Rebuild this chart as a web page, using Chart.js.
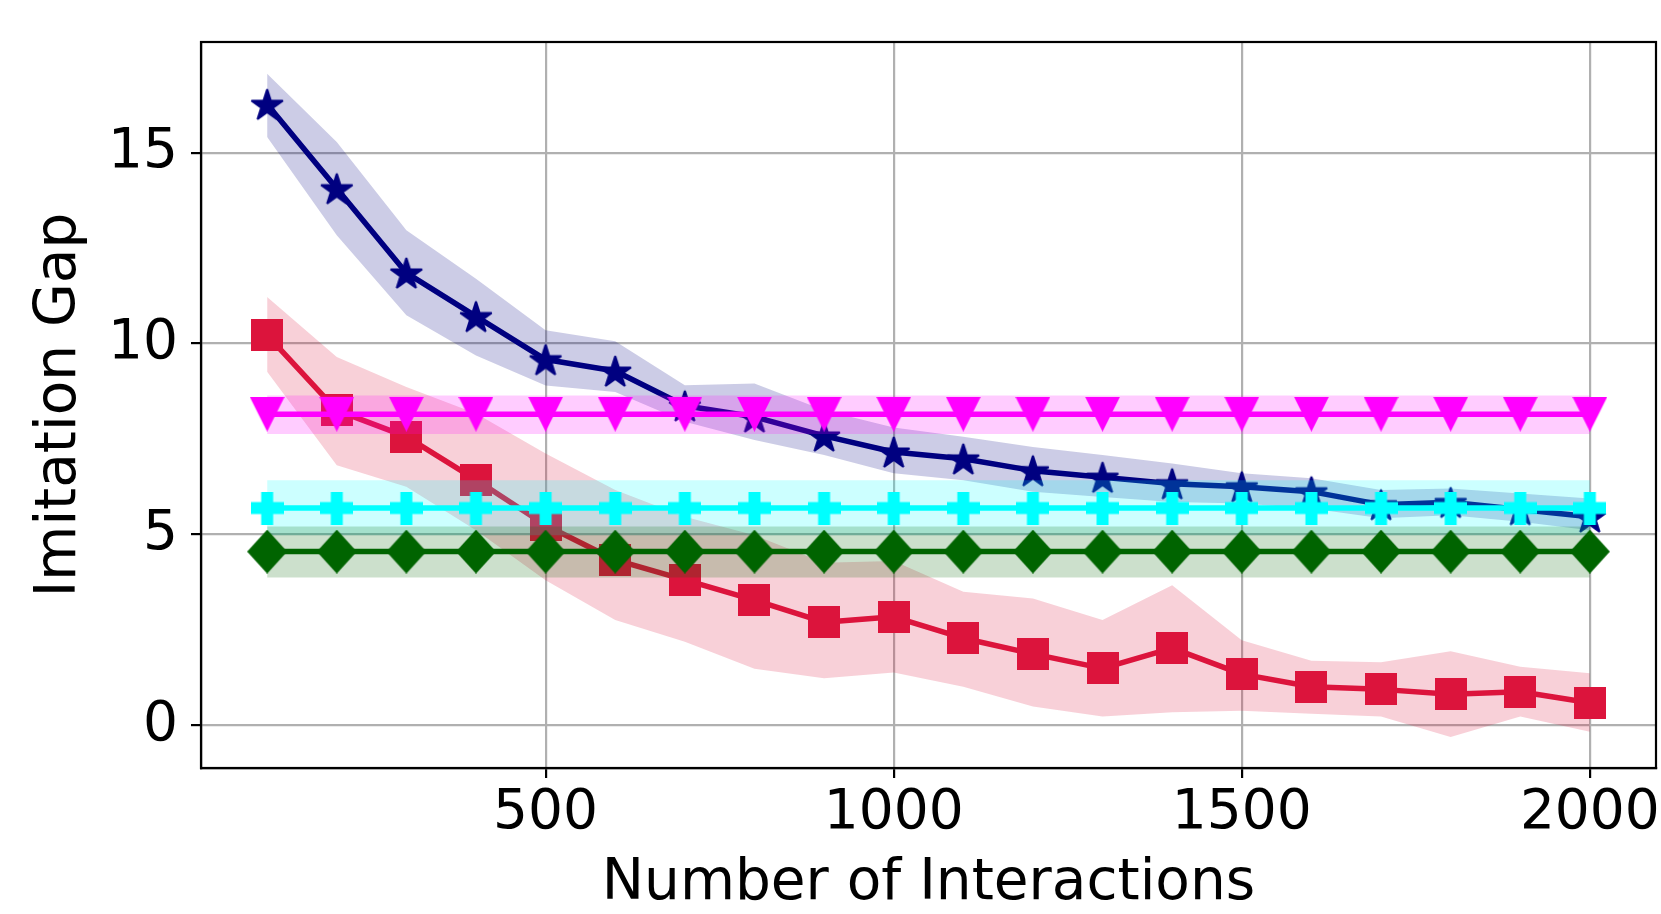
<!DOCTYPE html>
<html><head><meta charset="utf-8">
<script src="https://cdn.jsdelivr.net/npm/chart.js@4.4.1/dist/chart.umd.min.js"></script>
<style>html,body{margin:0;padding:0;background:#fff;overflow:hidden}</style>
</head><body>
<canvas id="c" width="1661" height="914"></canvas>
<script>
// ---- data ----
const interactions = [100,200,300,400,500,600,700,800,900,1000,1100,1200,1300,1400,1500,1600,1700,1800,1900,2000];
const xTickValues = [500,1000,1500,2000];
const yTickValues = [0,5,10,15];

const blueMean  = [16.27,14.06,11.85,10.71,9.58,9.28,8.37,8.08,7.58,7.16,6.98,6.67,6.50,6.33,6.25,6.12,5.78,5.84,5.65,5.46];
const blueUpper = [17.07,15.28,12.97,11.70,10.35,10.06,8.91,8.95,8.25,7.80,7.56,7.29,7.08,6.86,6.60,6.47,6.16,6.20,6.07,5.94];
const blueLower = [15.41,12.84,10.74,9.69,8.90,8.73,7.95,7.47,7.08,6.60,6.42,6.12,5.98,5.85,5.81,5.68,5.42,5.50,5.33,5.11];

const redMean  = [10.22,8.25,7.56,6.43,5.24,4.33,3.81,3.28,2.70,2.84,2.28,1.87,1.49,2.02,1.34,1.01,0.94,0.81,0.88,0.59];
const redUpper = [11.22,9.65,8.86,8.17,7.12,6.16,5.46,4.98,4.26,4.30,3.50,3.32,2.76,3.67,2.23,1.69,1.65,1.94,1.53,1.36];
const redLower = [9.26,6.81,6.25,5.11,3.80,2.76,2.19,1.48,1.23,1.38,1.01,0.49,0.23,0.34,0.38,0.30,0.23,-0.31,0.23,-0.17];

const magentaMean  = [8.15,8.15,8.15,8.15,8.15,8.15,8.15,8.15,8.15,8.15,8.15,8.15,8.15,8.15,8.15,8.15,8.15,8.15,8.15,8.15];
const magentaUpper = [8.64,8.64,8.64,8.64,8.64,8.64,8.64,8.64,8.64,8.64,8.64,8.64,8.64,8.64,8.64,8.64,8.64,8.64,8.64,8.64];
const magentaLower = [7.63,7.63,7.63,7.63,7.63,7.63,7.63,7.63,7.63,7.63,7.63,7.63,7.63,7.63,7.63,7.63,7.63,7.63,7.63,7.63];

const cyanMean  = [5.69,5.69,5.69,5.69,5.69,5.69,5.69,5.69,5.69,5.69,5.69,5.69,5.69,5.69,5.69,5.69,5.69,5.69,5.69,5.69];
const cyanUpper = [6.42,6.42,6.42,6.42,6.42,6.42,6.42,6.42,6.42,6.42,6.42,6.42,6.42,6.42,6.42,6.42,6.42,6.42,6.42,6.42];
const cyanLower = [4.98,4.98,4.98,4.98,4.98,4.98,4.98,4.98,4.98,4.98,4.98,4.98,4.98,4.98,4.98,4.98,4.98,4.98,4.98,4.98];

const greenMean  = [4.55,4.55,4.55,4.55,4.55,4.55,4.55,4.55,4.55,4.55,4.55,4.55,4.55,4.55,4.55,4.55,4.55,4.55,4.55,4.55];
const greenUpper = [5.21,5.21,5.21,5.21,5.21,5.21,5.21,5.21,5.21,5.21,5.21,5.21,5.21,5.21,5.21,5.21,5.21,5.21,5.21,5.21];
const greenLower = [3.87,3.87,3.87,3.87,3.87,3.87,3.87,3.87,3.87,3.87,3.87,3.87,3.87,3.87,3.87,3.87,3.87,3.87,3.87,3.87];

// ---- marker images ----
function mk(w, h, draw) {
  const c = document.createElement('canvas'); c.width = w; c.height = h;
  const g = c.getContext('2d'); draw(g, w, h); return c;
}
const starImg = mk(36, 36, (g, w, h) => {
  const R = 16.5, r = R * 0.382, cx = w/2, cy = h/2 + 1.6;
  g.beginPath();
  for (let k = 0; k < 10; k++) {
    const a = -Math.PI/2 + k * Math.PI/5, rr = (k % 2) ? r : R;
    const px = cx + rr*Math.cos(a), py = cy + rr*Math.sin(a);
    k ? g.lineTo(px, py) : g.moveTo(px, py);
  }
  g.closePath(); g.fillStyle = '#000080'; g.fill();
  g.lineWidth = 2; g.lineJoin = 'bevel'; g.strokeStyle = '#000080'; g.stroke();
});
const squareImg = mk(32, 32, (g, w, h) => { g.fillStyle = '#dc143c'; g.fillRect(0, 0, w, h); });
const triImg = mk(35, 35, (g, w, h) => {
  g.beginPath(); g.moveTo(0, 0); g.lineTo(w, 0); g.lineTo(w/2, h); g.closePath();
  g.fillStyle = '#ff00ff'; g.fill();
});
const plusImg = mk(33, 33, (g, w, h) => {
  g.fillStyle = '#00ffff'; const t = 12;
  g.fillRect((w-t)/2, 0, t, h); g.fillRect(0, (h-t)/2, w, t);
});
const diamondImg = mk(40, 44, (g, w, h) => {
  g.beginPath(); g.moveTo(w/2, 0); g.lineTo(w, h/2); g.lineTo(w/2, h); g.lineTo(0, h/2); g.closePath();
  g.fillStyle = '#006400'; g.fill();
});

const pts = arr => arr.map((v, i) => ({x: interactions[i], y: v}));
function band(upper, lower, color, order) {
  return [
    {data: pts(upper), fill: '+1', backgroundColor: color, borderColor: 'rgba(0,0,0,0)', borderWidth: 0, pointRadius: 0, order: order, tension: 0},
    {data: pts(lower), fill: false, borderColor: 'rgba(0,0,0,0)', borderWidth: 0, pointRadius: 0, order: order, tension: 0}
  ];
}
function line(mean, color, img, order) {
  return {data: pts(mean), borderColor: color, backgroundColor: color, borderWidth: 5.5, fill: false,
          pointStyle: img, pointRadius: 15, order: order, tension: 0, borderJoinStyle: 'round', borderCapStyle: 'round'};
}

const datasets = [
  line(greenMean, '#006400', diamondImg, 0),
  ...band(greenUpper, greenLower, 'rgba(0,100,0,0.2)', 1),
  line(cyanMean, '#00ffff', plusImg, 2),
  ...band(cyanUpper, cyanLower, 'rgba(0,255,255,0.2)', 3),
  line(magentaMean, '#ff00ff', triImg, 4),
  ...band(magentaUpper, magentaLower, 'rgba(255,0,255,0.2)', 5),
  line(blueMean, '#000080', starImg, 6),
  ...band(blueUpper, blueLower, 'rgba(0,0,128,0.2)', 7),
  line(redMean, '#dc143c', squareImg, 8),
  ...band(redUpper, redLower, 'rgba(220,20,60,0.2)', 9)
];

const frame = {
  id: 'frame',
  afterDraw(chart) {
    const a = chart.chartArea, g = chart.ctx;
    g.save(); g.strokeStyle = '#000'; g.lineWidth = 2.2;
    g.strokeRect(a.left, a.top, a.right - a.left, a.bottom - a.top);
    g.restore();
  }
};

function noPad(s) {
  s.paddingLeft = 0; s.paddingRight = 0; s.paddingTop = 0; s.paddingBottom = 0;
}

const font = {family: 'DejaVu Sans', size: 55};
const titleFont = {family: 'DejaVu Sans', size: 56.5};
new Chart(document.getElementById('c'), {
  type: 'line',
  data: {datasets},
  plugins: [frame],
  options: {
    responsive: false, animation: false, devicePixelRatio: 1,
    layout: {autoPadding: false, padding: {left: 0, right: 5, top: 42, bottom: 0}},
    plugins: {legend: {display: false}, tooltip: {enabled: false}},
    elements: {line: {tension: 0}},
    scales: {
      x: {
        type: 'linear', min: 5, max: 2095,
        afterBuildTicks: s => { s.ticks = xTickValues.map(v => ({value: v})); },
        afterFit: s => { s.height = 146; noPad(s); },
        ticks: {font, color: '#000', padding: 3, maxRotation: 0, autoSkip: false, callback: v => String(v)},
        grid: {color: '#b0b0b0', lineWidth: 2.2, tickColor: '#000', tickLength: 10, tickWidth: 2.2},
        border: {display: true, color: '#000', width: 2.2},
        title: {display: true, text: 'Number of Interactions', font: titleFont, color: '#000', padding: {top: 0, bottom: -4}}
      },
      y: {
        type: 'linear', min: -1.12, max: 17.9,
        afterBuildTicks: s => { s.ticks = yTickValues.map(v => ({value: v})); },
        afterFit: s => { s.width = 201; noPad(s); },
        ticks: {font, color: '#000', padding: 13, autoSkip: false, callback: v => String(v)},
        grid: {color: '#b0b0b0', lineWidth: 2.2, tickColor: '#000', tickLength: 10, tickWidth: 2.2},
        border: {display: true, color: '#000', width: 2.2},
        title: {display: true, text: 'Imitation Gap', font: titleFont, color: '#000', padding: {top: 26, bottom: 0}}
      }
    }
  }
});
</script>
</body></html>
